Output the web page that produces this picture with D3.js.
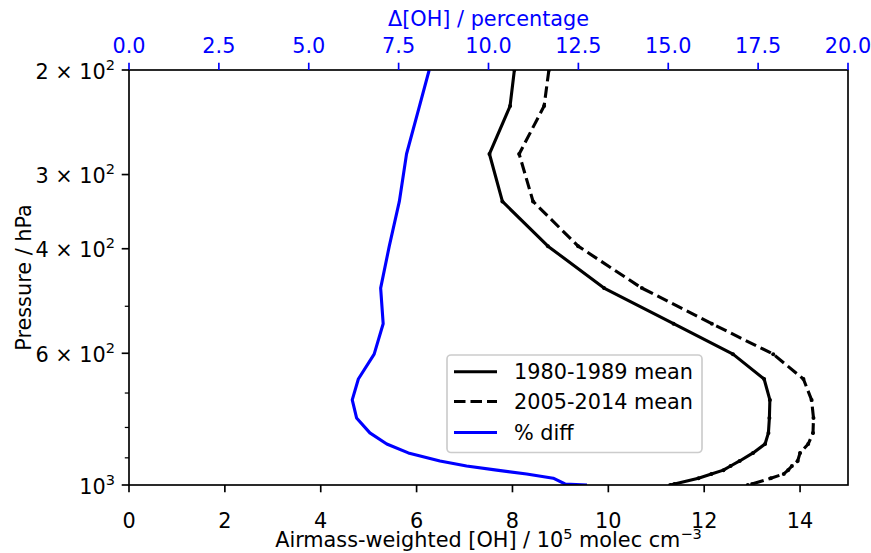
<!DOCTYPE html>
<html><head><meta charset="utf-8">
<script src="https://cdn.jsdelivr.net/npm/d3@7"></script>
<style>body{margin:0;background:#fff} text{font-family:"DejaVu Sans",sans-serif}</style>
</head><body><svg id="c" width="871" height="553"></svg>
<script>
// ---- data ----
const pressure = [200, 230, 277, 333, 396, 466, 535, 602, 663, 719, 771, 817, 853, 883, 911, 929, 944, 958, 974, 996, 1000];
const oh1980 = [8.04, 7.95, 7.52, 7.79, 8.74, 9.91, 11.36, 12.60, 13.25, 13.37, 13.36, 13.34, 13.27, 13.02, 12.74, 12.55, 12.40, 12.15, 11.88, 11.38, 11.29];
const oh2005 = [8.76, 8.66, 8.14, 8.43, 9.37, 10.70, 12.16, 13.44, 14.07, 14.24, 14.28, 14.27, 14.17, 14.00, 13.95, 13.83, 13.75, 13.66, 13.39, 13.00, 12.91];
const pctDiff = [8.35, 8.08, 7.72, 7.52, 7.24, 7.00, 7.07, 6.82, 6.38, 6.21, 6.33, 6.70, 7.17, 7.77, 8.65, 9.39, 10.23, 11.06, 11.80, 12.13, 12.74];
const xTicks = [0, 2, 4, 6, 8, 10, 12, 14];
const topTicks = [0, 2.5, 5, 7.5, 10, 12.5, 15, 17.5, 20];
const yMajor = [[200, "2", "2"], [300, "3", "2"], [400, "4", "2"], [600, "6", "2"], [1000, null, "3"]];
const yMinor = [500, 700, 800, 900];
const legendLabels = ["1980-1989 mean", "2005-2014 mean", "% diff"];

// ---- layout ----
const L = 129, R = 848, T = 70, B = 485;
const FS = 20.8;
const svg = d3.select("#c");
const x = d3.scaleLinear().domain([0, 15]).range([L, R]);
const xTop = d3.scaleLinear().domain([0, 20]).range([L, R]);
const y = d3.scaleLog().domain([200, 1000]).range([T, B]);

svg.append("defs").append("clipPath").attr("id", "clip")
  .append("rect").attr("x", L).attr("y", T).attr("width", R - L).attr("height", B - T);

const g = svg.append("g").attr("clip-path", "url(#clip)");
const idx = d3.range(pressure.length);

const line1 = d3.line().x(i => x(oh1980[i])).y(i => y(pressure[i]));
const line2 = d3.line().x(i => x(oh2005[i])).y(i => y(pressure[i]));
const line3 = d3.line().x(i => xTop(pctDiff[i])).y(i => y(pressure[i]));

g.append("path").attr("d", line1(idx)).attr("fill", "none").attr("stroke", "#000").attr("stroke-width", 3.1).attr("stroke-linejoin", "round");
g.selectAll(".m1").data(idx).enter().append("circle").attr("cx", i => x(oh1980[i])).attr("cy", i => y(pressure[i])).attr("r", 2).attr("fill", "#000");
g.append("path").attr("d", line2(idx)).attr("fill", "none").attr("stroke", "#000").attr("stroke-width", 3.1).attr("stroke-dasharray", "11.5,5").attr("stroke-linejoin", "round");
g.selectAll(".m2").data(idx).enter().append("circle").attr("cx", i => x(oh2005[i])).attr("cy", i => y(pressure[i])).attr("r", 2).attr("fill", "#000");
g.append("path").attr("d", line3(idx)).attr("fill", "none").attr("stroke", "#0000ff").attr("stroke-width", 3.1).attr("stroke-linejoin", "round");

// ---- frame ----
svg.append("rect").attr("x", L).attr("y", T).attr("width", R - L).attr("height", B - T)
  .attr("fill", "none").attr("stroke", "#000").attr("stroke-width", 1.67);

// bottom axis
xTicks.forEach(v => {
  svg.append("line").attr("x1", x(v)).attr("x2", x(v)).attr("y1", B).attr("y2", B + 7.3).attr("stroke", "#000").attr("stroke-width", 1.67);
  svg.append("text").attr("x", x(v)).attr("y", 528).attr("text-anchor", "middle").attr("font-size", FS).text(v);
});
const xl = svg.append("text").attr("x", (L + R) / 2).attr("y", 547).attr("text-anchor", "middle").attr("font-size", FS);
xl.append("tspan").text("Airmass-weighted [OH] / 10");
xl.append("tspan").attr("font-size", FS * 0.7).attr("dy", -8).text("5");
xl.append("tspan").attr("dy", 8).text(" molec cm");
xl.append("tspan").attr("font-size", FS * 0.7).attr("dy", -8).text("\u22123");

// top axis
topTicks.forEach(v => {
  svg.append("line").attr("x1", xTop(v)).attr("x2", xTop(v)).attr("y1", T).attr("y2", T - 7.3).attr("stroke", "#0000ff").attr("stroke-width", 1.67);
  svg.append("text").attr("x", xTop(v)).attr("y", 53).attr("text-anchor", "middle").attr("font-size", FS).attr("fill", "#0000ff").text(v.toFixed(1));
});
svg.append("text").attr("x", (L + R) / 2).attr("y", 25.5).attr("text-anchor", "middle").attr("font-size", FS).attr("fill", "#0000ff").text("\u0394[OH] / percentage");

// left axis
yMajor.forEach(([p, m, e]) => {
  svg.append("line").attr("x1", L).attr("x2", L - 7.3).attr("y1", y(p)).attr("y2", y(p)).attr("stroke", "#000").attr("stroke-width", 1.67);
  const t = svg.append("text").attr("x", 115).attr("y", y(p) + 8.5).attr("text-anchor", "end").attr("font-size", FS);
  t.append("tspan").text(m ? m + " \u00d7 10" : "10");
  t.append("tspan").attr("font-size", FS * 0.7).attr("dy", -9).text(e);
});
yMinor.forEach(p => {
  svg.append("line").attr("x1", L).attr("x2", L - 4.2).attr("y1", y(p)).attr("y2", y(p)).attr("stroke", "#000").attr("stroke-width", 1.25);
});
svg.append("text").attr("transform", `translate(31,${(T + B) / 2}) rotate(-90)`).attr("text-anchor", "middle").attr("font-size", FS).text("Pressure / hPa");

// ---- legend ----
const lg = svg.append("g");
lg.append("rect").attr("x", 447).attr("y", 355).attr("width", 255).attr("height", 97.5).attr("rx", 4)
  .attr("fill", "#fff").attr("fill-opacity", 0.8).attr("stroke", "#cccccc").attr("stroke-width", 1.67);
const ly = [371.7, 401.5, 432.5];
const styles = [{c: "#000", d: null}, {c: "#000", d: "11.5,5"}, {c: "#0000ff", d: null}];
legendLabels.forEach((lab, i) => {
  const ln = lg.append("line").attr("x1", 454).attr("x2", 497).attr("y1", ly[i]).attr("y2", ly[i]).attr("stroke", styles[i].c).attr("stroke-width", 3.1);
  if (styles[i].d) ln.attr("stroke-dasharray", styles[i].d);
  lg.append("text").attr("x", 514).attr("y", ly[i] + 7.5).attr("font-size", FS).text(lab);
});
</script></body></html>
